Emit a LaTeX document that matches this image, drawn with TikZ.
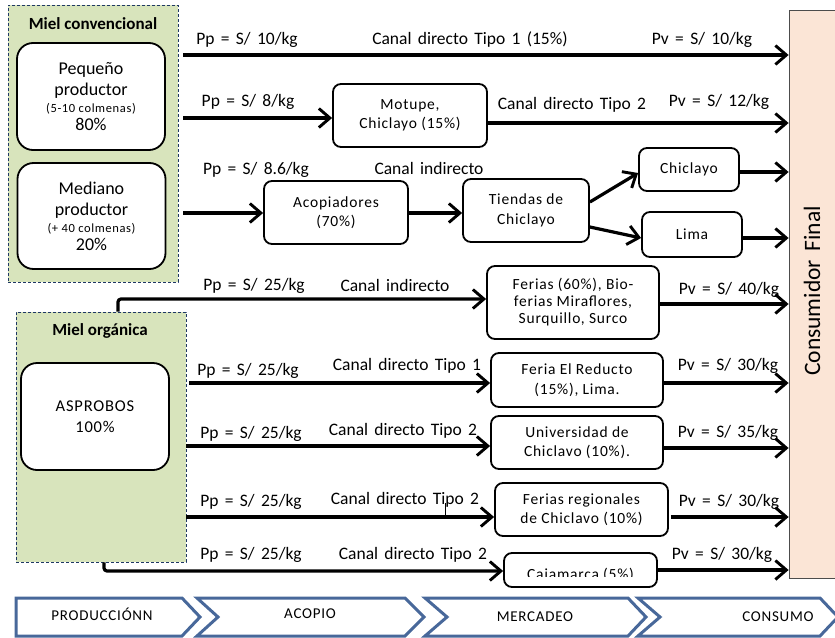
\documentclass[tikz,border=0pt]{standalone}
\usepackage{fontspec}
\setmainfont{Carlito}
\newfontfamily\spaced[LetterSpace=5]{Carlito}
\newfontfamily\lblfont[WordSpace=1.6]{Carlito}
\usetikzlibrary{arrows.meta,calc}
\definecolor{grp}{HTML}{D8E4BC}
\definecolor{navy}{HTML}{1F3864}
\definecolor{peach}{HTML}{FBE5D6}
\definecolor{chev}{HTML}{48689A}
\begin{document}
\begin{tikzpicture}[x=1pt,y=-1pt,
  arr/.style={line width=3.2pt,rounded corners=3pt,-{Straight Barb[length=11pt,width=19pt,line width=2.9pt]}},
  lbl/.style={inner sep=0pt,font=\lblfont\fontsize{17.5}{20}\selectfont},
  rbox/.style={draw,line width=1.8pt,rounded corners=8pt,fill=white,align=center,inner sep=0pt,
    font=\spaced\fontsize{15.5}{19.5}\selectfont},
  pbox/.style={draw,line width=1.8pt,rounded corners=16pt,fill=white,align=center,inner sep=0pt,
    minimum width=148pt,minimum height=107pt,font=\fontsize{18}{22}\selectfont},
  grpbox/.style={draw=navy,line width=0.9pt,dash pattern=on 3pt off 2pt,fill=grp,inner sep=0pt},
  grptitle/.style={inner sep=0pt,font=\bfseries\fontsize{17}{19}\selectfont},
  chevshape/.style={draw=chev,line width=3pt,fill=white,line join=miter},
  chevtxt/.style={inner sep=0pt,font=\spaced\fontsize{15}{18}\selectfont}
]
\useasboundingbox (0,0) rectangle (835,637);
% consumer
\node[draw=black!70,line width=0.8pt,fill=peach,minimum width=52pt,minimum height=568pt,inner sep=0pt] (consumidor) at (815,294) {};
\node[rotate=90,inner sep=0pt,font=\lblfont\fontsize{23.5}{26}\selectfont] (consumidortxt) at (812,291) {Consumidor Final};
% groups
\node[grpbox,minimum width=170pt,minimum height=277pt] (conv) at (93,143.5) {};
\node[grptitle] (convt) at (93,24) {Miel convencional};
\node[grpbox,minimum width=170pt,minimum height=250pt] (org) at (101,437) {};
\node[grptitle] (orgt) at (100,331) {Miel orgánica};
% producers
\node[pbox] (pequeno) at (91,96.5) {Pequeño\\[-1pt]productor\\[-5pt]{\spaced\fontsize{12.5}{14}\selectfont(5-10 colmenas)}\\[-4pt]80\%};
\node[pbox,minimum height=106pt] (mediano) at (91.5,216) {Mediano\\[-1pt]productor\\[-5pt]{\spaced\fontsize{12.5}{14}\selectfont(+ 40 colmenas)}\\[-4pt]20\%};
\node[pbox,font=\spaced\fontsize{16.5}{21}\selectfont] (asprobos) at (95,416.5) {ASPROBOS\\100\%};
% intermediaries
\node[rbox,minimum width=154pt,minimum height=63pt] (motupe) at (410,115.5) {Motupe,\\Chiclayo (15\%)};
\node[rbox,minimum width=144pt,minimum height=63pt] (acop) at (336,212.5) {Acopiadores\\(70\%)};
\node[rbox,minimum width=126pt,minimum height=63pt] (tiendas) at (526,210.5) {Tiendas de\\Chiclayo};
\node[rbox,minimum width=100pt,minimum height=43pt] (chic) at (689,169.5) {Chiclayo};
\node[rbox,minimum width=100pt,minimum height=45pt] (lima) at (692,234.5) {Lima};
\node[rbox,minimum width=172pt,minimum height=73pt,font=\spaced\fontsize{15.5}{17}\selectfont] (ferias) at (573,302.5) {Ferias (60\%), Bio-\\ferias Miraflores,\\Surquillo, Surco};
\node[rbox,minimum width=172pt,minimum height=54pt] (reducto) at (577,380) {Feria El Reducto\\(15\%), Lima.};
\node[rbox,minimum width=172pt,minimum height=53pt,font=\spaced\fontsize{15.5}{18.5}\selectfont] (univ) at (577,442.5) {Universidad de\\Chiclavo (10\%).};
\node[rbox,minimum width=173pt,minimum height=53pt,font=\spaced\fontsize{15.5}{18.5}\selectfont] (regio) at (581.5,509.5) {Ferias regionales\\de Chiclavo (10\%)};
\node[rbox,minimum width=153pt,minimum height=34pt] (caja) at (580.5,570) {};
\begin{scope}
  \clip (505,555) rectangle (656,576);
  \node[inner sep=0pt,font=\spaced\fontsize{15.5}{18}\selectfont] (cajat) at (580.5,575) {Cajamarca (5\%)};
\end{scope}
% coordinates for free ends
\coordinate (s1) at (183,55);
\coordinate (s2) at (183,118);
\coordinate (o2) at (0,123);
\coordinate (s3) at (183,213);
\coordinate (o4) at (118,299);
\coordinate (s5) at (189,383);
\coordinate (s6) at (186,446);
\coordinate (s7) at (186,517);
\coordinate (o8) at (104,571);
% row 1
\draw[arr] (s1) -- (consumidor.west |- s1);
\node[lbl] (p1) at (247,40) {Pp = S/ 10/kg};
\node[lbl] (c1) at (470,40) {Canal directo Tipo 1 (15\%)};
\node[lbl] (v1) at (702,40) {Pv = S/ 10/kg};
% row 2
\draw[arr] (s2) -- (s2 -| motupe.west);
\draw[arr] (motupe.east |- o2) -- (consumidor.west |- o2);
\node[lbl] (p2) at (248,102) {Pp = S/ 8/kg};
\node[lbl] (c2) at (572,105) {Canal directo Tipo 2};
\node[lbl] (v2) at (719,102) {Pv = S/ 12/kg};
% row 3
\draw[arr] (s3) -- (s3 -| acop.west);
\draw[arr] (acop.east |- s3) -- (s3 -| tiendas.west);
\draw[arr] ([yshift=8.5pt]tiendas.east) -- ([yshift=-3.5pt]chic.west);
\draw[arr] ([yshift=-16.5pt]tiendas.east) -- ([yshift=-3.5pt]lima.west);
\draw[arr] (chic.east |- 0,172) -- (consumidor.west |- 0,172);
\draw[arr] (lima.east |- 0,238) -- (consumidor.west |- 0,238);
\node[lbl] (p3) at (256,170) {Pp = S/ 8.6/kg};
\node[lbl] (c3) at (429,168) {Canal indirecto};
% row 4
\draw[arr] (org.north -| o4) -- (o4) -- (o4 -| ferias.west);
\draw[arr] (ferias.east |- 0,304) -- (consumidor.west |- 0,304);
\node[lbl] (p4) at (254,286) {Pp = S/ 25/kg};
\node[lbl] (c4) at (395,285) {Canal indirecto};
\node[lbl] (v4) at (729,290) {Pv = S/ 40/kg};
% row 5
\draw[arr] (s5) -- (s5 -| reducto.west);
\draw[arr] (reducto.east |- s5) -- (consumidor.west |- s5);
\node[lbl] (p5) at (248,371) {Pp = S/ 25/kg};
\node[lbl] (c5) at (407,366) {Canal directo Tipo 1};
\node[lbl] (v5) at (728,366) {Pv = S/ 30/kg};
% row 6
\draw[arr] (s6) -- (s6 -| univ.west);
\draw[arr] (univ.east |- 0,448) -- (consumidor.west |- 0,448);
\node[lbl] (p6) at (251,434) {Pp = S/ 25/kg};
\node[lbl] (c6) at (403,431) {Canal directo Tipo 2};
\node[lbl] (v6) at (728,433) {Pv = S/ 35/kg};
% row 7
\draw[arr] (s7) -- (s7 -| regio.west);
\draw[arr] ([xshift=2pt]regio.east |- s7) -- (consumidor.west |- s7);
\draw[line width=0.8pt] (445,503) -- (445,518);
\node[lbl] (p7) at (251,502) {Pp = S/ 25/kg};
\node[lbl] (c7) at (405,500) {Canal directo Tipo 2};
\node[lbl] (v7) at (729,502) {Pv = S/ 30/kg};
% row 8
\draw[arr] (org.south -| o8) -- (o8) -- (o8 -| caja.west);
\draw[arr] (caja.east) -- (consumidor.west |- caja.east);
\node[lbl] (p8) at (251,555) {Pp = S/ 25/kg};
\node[lbl] (c8) at (413,555) {Canal directo Tipo 2};
\node[lbl] (v8) at (722,555) {Pv = S/ 30/kg};
% stages
\draw[chevshape] (16,598) -- (182,598) -- (200,617) -- (182,636) -- (16,636) -- cycle;
\draw[chevshape] (197,598) -- (405,598) -- (424,617) -- (405,636) -- (197,636) -- (218,617) -- cycle;
\draw[chevshape] (425,598) -- (628,598) -- (646,617) -- (628,636) -- (425,636) -- (447,617) -- cycle;
\draw[chevshape] (638,598) -- (820,598) -- (838,617) -- (820,636) -- (638,636) -- (660,617) -- cycle;
\node[chevtxt] (st1) at (102,614) {PRODUCCIÓNN};
\node[chevtxt] (st2) at (310,614) {ACOPIO};
\node[chevtxt] (st3) at (535,617) {MERCADEO};
\node[chevtxt] (st4) at (778,617) {CONSUMO};
\end{tikzpicture}
\end{document}
